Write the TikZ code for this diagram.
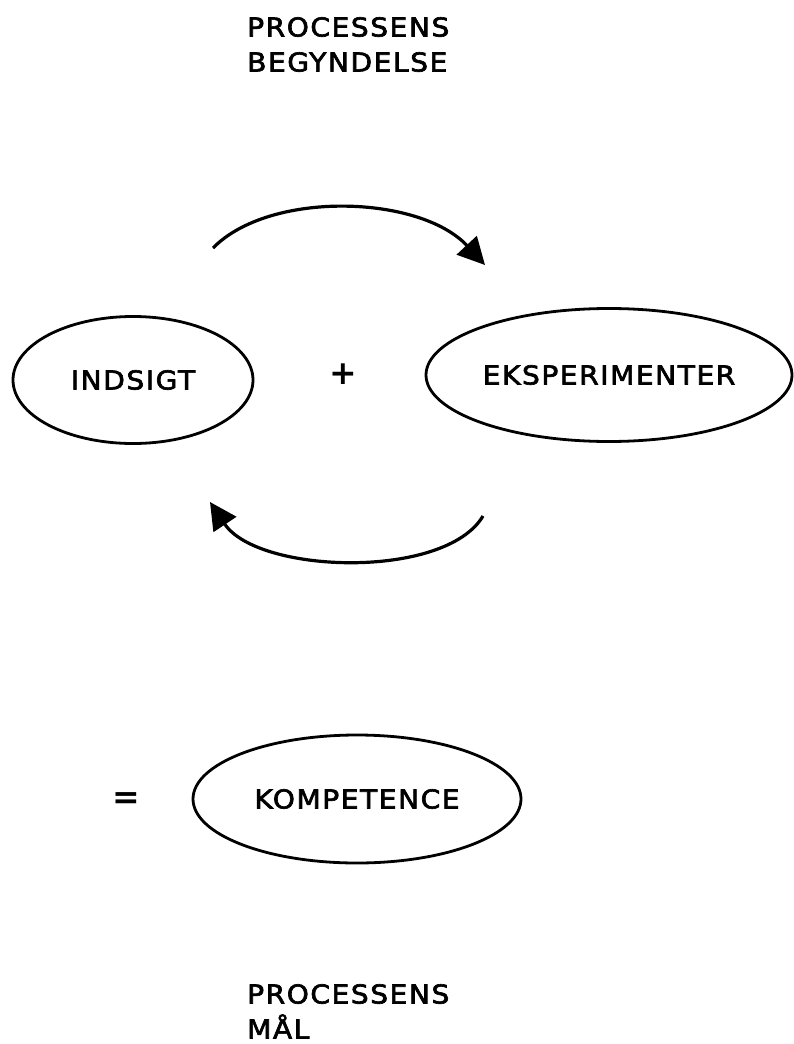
\documentclass[tikz,border=0pt]{standalone}
\usepackage{fontspec}
\setmainfont{DejaVu Sans}[LetterSpace=6,FakeStretch=1.08,FakeBold=2.5]
\newfontfamily\symfont{DejaVu Sans Bold}
\usetikzlibrary{arrows.meta,shapes.geometric}
\tikzset{
  oval/.style={draw, ellipse, line width=2.8pt, inner sep=0pt, font=\fontsize{26}{35}\selectfont},
  caption/.style={anchor=north west, inner sep=0pt, align=left, font=\fontsize{26}{35}\selectfont},
  cyc/.style={line width=3.2pt, -{Triangle[length=27pt,width=27pt]}},
  sym/.style={inner sep=0pt, font=\symfont\fontsize{33}{33}\selectfont}
}
\begin{document}
\begin{tikzpicture}[x=1pt,y=-1pt]
\useasboundingbox (0,0) rectangle (794,1044);
\node[caption] (start) at (247,17) {PROCESSENS\\BEGYNDELSE};
\node[oval, minimum width=240pt, minimum height=127pt] (ind) at (133,380) {INDSIGT};
\node[sym] (plus) at (343,374) {+};
\node[oval, minimum width=366pt, minimum height=133pt] (eks) at (609,375) {EKSPERIMENTER};
\coordinate (a1) at (213,248);
\coordinate (a2) at (485,265);
\draw[cyc] (a1) .. controls (270,190) and (420,195) .. (a2);
\coordinate (b1) at (483,516);
\coordinate (b2) at (210,502);
\draw[cyc] (b1) .. controls (445,580) and (258,574) .. (b2);
\node[sym] (eq) at (126,801) {=};
\node[oval, minimum width=328pt, minimum height=128pt] (komp) at (357,799) {KOMPETENCE};
\node[caption] (goal) at (247,984) {PROCESSENS\\MÅL};
\end{tikzpicture}
\end{document}
